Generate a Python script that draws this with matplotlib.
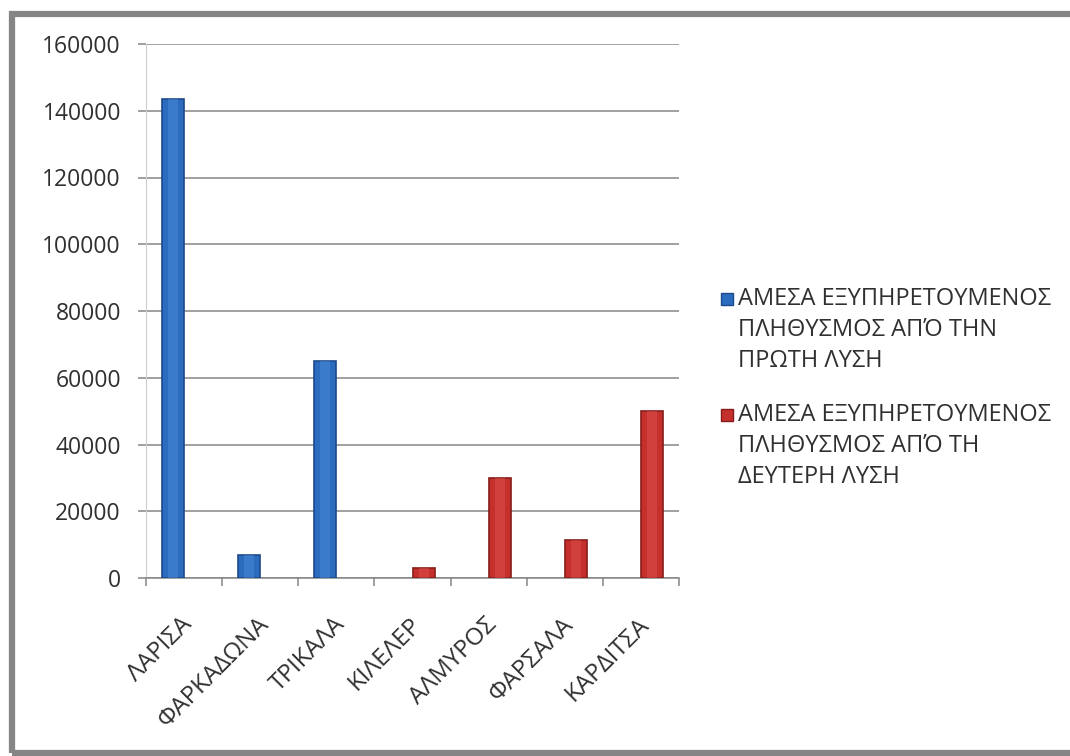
import numpy as np
import matplotlib
matplotlib.use('Agg')
import matplotlib.pyplot as plt
import matplotlib.transforms as mtransforms
from matplotlib.patches import Rectangle
from matplotlib.lines import Line2D

plt.rcParams['font.family'] = ['Open Sans', 'DejaVu Sans']

# Πόλεις και εξυπηρετούμενος πληθυσμός ανά λύση
poleis = ['ΛΑΡΙΣΑ', 'ΦΑΡΚΑΔΩΝΑ', 'ΤΡΙΚΑΛΑ', 'ΚΙΛΕΛΕΡ', 'ΑΛΜΥΡΟΣ', 'ΦΑΡΣΑΛΑ', 'ΚΑΡΔΙΤΣΑ']
lysi_1 = [143500, 7000, 65000, 0, 0, 0, 0]
lysi_2 = [0, 0, 0, 3000, 30000, 11500, 50000]
onomata = ['ΑΜΕΣΑ ΕΞΥΠΗΡΕΤΟΥΜΕΝΟΣ\nΠΛΗΘΥΣΜΟΣ ΑΠΌ ΤΗΝ\nΠΡΩΤΗ ΛΥΣΗ',
           'ΑΜΕΣΑ ΕΞΥΠΗΡΕΤΟΥΜΕΝΟΣ\nΠΛΗΘΥΣΜΟΣ ΑΠΌ ΤΗ\nΔΕΥΤΕΡΗ ΛΥΣΗ']

mple, mple_skouro, mple_anoixto = '#2c6cbf', '#1d4a8a', '#4f8fdc'
kokkino, kokkino_skouro, kokkino_anoixto = '#c5302c', '#861c1a', '#e05550'

fig = plt.figure(figsize=(10.7, 7.56), dpi=100)
ax = fig.add_axes([146 / 1070, 1 - 578 / 756, (679 - 146) / 1070, (578 - 44) / 756])

x = np.arange(len(poleis))
w = 0.29
# οι μηδενικές τιμές δεν σχεδιάζονται καθόλου
y1 = np.where(np.array(lysi_1) > 0, lysi_1, np.nan)
y2 = np.where(np.array(lysi_2) > 0, lysi_2, np.nan)
ax.bar(x - w / 2, y1, w, color=mple, edgecolor=mple_skouro, linewidth=1.2, zorder=3)
ax.bar(x + w / 2, y2, w, color=kokkino, edgecolor=kokkino_skouro, linewidth=1.2, zorder=3)
# φωτεινή λωρίδα στο κέντρο για την ανάγλυφη όψη
ax.bar(x - w / 2, y1, w * 0.45, color=mple_anoixto, linewidth=0, zorder=4, alpha=0.45)
ax.bar(x + w / 2, y2, w * 0.45, color=kokkino_anoixto, linewidth=0, zorder=4, alpha=0.45)

ax.set_xlim(-0.5, len(poleis) - 0.5)
ax.set_ylim(0, 160000)
ax.set_yticks(np.arange(0, 160001, 20000))
ax.yaxis.grid(True, color='#868686', linewidth=1.1, zorder=0)
ax.tick_params(axis='y', labelsize=16.5, length=6, color='#868686', width=1.1, pad=12,
               labelcolor='#303030')

ax.set_xticks(x)
ax.set_xticks(np.arange(-0.5, len(poleis)), minor=True)
ax.set_xticklabels(poleis, rotation=45, ha='right', va='center',
                   rotation_mode='anchor', fontsize=17.5, color='#303030')
ax.tick_params(axis='x', which='major', length=0, pad=31)
ax.tick_params(axis='x', which='minor', length=6, color='#868686', width=1.1)
metatopisi = mtransforms.ScaledTranslation(5 / 100, 0, fig.dpi_scale_trans)
for lbl in ax.get_xticklabels():
    lbl.set_transform(lbl.get_transform() + metatopisi)

for s in ['top', 'right']:
    ax.spines[s].set_visible(False)
ax.spines['left'].set_color('#d0d0d0')
ax.spines['bottom'].set_color('#868686')
ax.spines['bottom'].set_linewidth(1.1)

# υπόμνημα: τετράγωνο στο ύψος της πρώτης γραμμής κάθε ετικέτας
for i, (onoma, c, ec) in enumerate(zip(onomata, [mple, kokkino], [mple_skouro, kokkino_skouro])):
    y0 = 1 - (299 + i * 116) / 756
    fig.add_artist(Line2D([727 / 1070], [y0], marker='s', markersize=9, linestyle='',
                          markerfacecolor=c, markeredgecolor=ec, transform=fig.transFigure))
    fig.text(738 / 1070, 1 - (287 + i * 116) / 756, onoma, ha='left', va='top',
             fontsize=17, color='#303030', linespacing=1.4, transform=fig.transFigure)

# γκρι πλαίσιο γύρω από το γράφημα
fig.patches.append(Rectangle((12 / 1070, 1 - 753 / 756), 1.2, (753 - 14) / 756,
                             transform=fig.transFigure, fill=False,
                             edgecolor='#858585', linewidth=4.5, zorder=10))

fig.savefig('out.png', dpi=100)
